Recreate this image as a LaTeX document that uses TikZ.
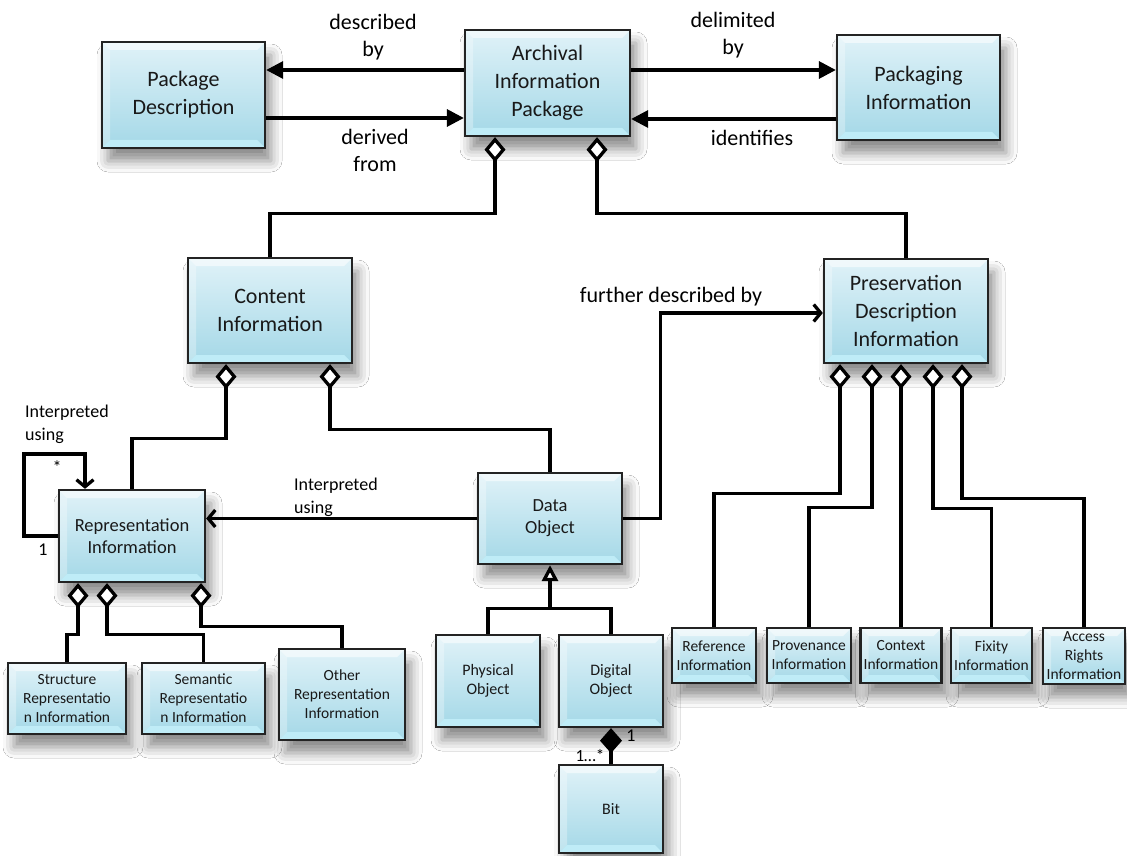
\documentclass[tikz,border=0pt]{standalone}
\usepackage{fontspec}
\setmainfont{Carlito}
\usetikzlibrary{arrows.meta,shadows.blur}

\definecolor{boxtop}{RGB}{224,242,248}
\definecolor{boxbot}{RGB}{164,216,231}
\definecolor{boxedge}{RGB}{196,240,250}
\definecolor{boxline}{RGB}{35,35,35}

\tikzset{
  bevel/.style={path picture={
      \fill[white,opacity=0.55] (path picture bounding box.north west) -- (path picture bounding box.north east)
        -- ([xshift=-8pt,yshift=-8pt]path picture bounding box.north east)
        -- ([xshift=8pt,yshift=-8pt]path picture bounding box.north west) -- cycle;
      \fill[white,opacity=0.3] (path picture bounding box.north west) -- ([xshift=8pt,yshift=-8pt]path picture bounding box.north west)
        -- ([xshift=8pt,yshift=8pt]path picture bounding box.south west) -- (path picture bounding box.south west) -- cycle;
      \fill[boxedge,opacity=0.85] (path picture bounding box.south west) -- (path picture bounding box.south east)
        -- ([xshift=-8pt,yshift=8pt]path picture bounding box.south east)
        -- ([xshift=8pt,yshift=8pt]path picture bounding box.south west) -- cycle;
    }},
  oaisbox/.style={draw=boxline, line width=2.3pt, top color=boxtop, bottom color=boxbot,
    blur shadow={shadow xshift=6pt, shadow yshift=-13pt, shadow blur radius=11pt, shadow opacity=45},
    bevel, align=center, inner sep=0pt, text=black!90},
  bigbox/.style={oaisbox, font=\fontsize{22}{28}\selectfont},
  ribox/.style={oaisbox, font=\fontsize{18.5}{22}\selectfont},
  dobox/.style={oaisbox, font=\fontsize{18.5}{22}\selectfont},
  smbox/.style={oaisbox, minimum width=104, minimum height=92, font=\fontsize{16}{19}\selectfont},
  repbox/.style={oaisbox, minimum height=71, font=\fontsize{15.5}{19}\selectfont},
  pdibox/.style={oaisbox, minimum width=84, minimum height=55, font=\fontsize{15.5}{19}\selectfont},
  lbl/.style={align=center, inner sep=0pt, font=\fontsize{22}{27}\selectfont},
  lbls/.style={align=left, inner sep=0pt, font=\fontsize{18}{23}\selectfont},
  conn/.style={line width=3.3pt, black},
  tri/.style={conn, -{Triangle[length=17pt,width=17pt]}},
  opn/.style={conn, -{Straight Barb[length=7pt,width=17pt]}},
  agg/.style={conn, {Diamond[open,fill=white,length=25pt,width=21pt]}-},
  gen/.style={conn, {Triangle[open,fill=white,length=16pt,width=16pt]}-},
  comp/.style={conn, {Diamond[length=25pt,width=22pt]}-}
}

\begin{document}
\begin{tikzpicture}[x=1pt,y=-1pt]
    \useasboundingbox (0,0) rectangle (1127,856);
    \fill[white] (0,0) rectangle (1127,856);

    % package level
    \node[bigbox, minimum width=163, minimum height=106] (pd) at (183.5,95) {Package\\Description};
    \node[bigbox, minimum width=165, minimum height=106] (aip) at (547.5,83) {Archival\\Information\\Package};
    \node[bigbox, minimum width=163, minimum height=105] (pki) at (918.5,87.5) {Packaging\\Information};

    \node[bigbox, minimum width=164, minimum height=105] (ci) at (270,310.5) {Content\\Information};
    \node[bigbox, minimum width=164, minimum height=104] (pdi) at (906,311) {Preservation\\Description\\Information};

    \node[ribox, minimum width=146, minimum height=92] (ri) at (132,536) {Representation\\Information};
    \node[dobox, minimum width=144, minimum height=91] (dob) at (550,518.5) {Data\\Object};

    \node[smbox] (phys) at (488,681) {Physical\\Object};
    \node[smbox] (digi) at (611,681) {Digital\\Object};
    \node[smbox, minimum height=88] (bit) at (611,809) {Bit};

    \node[repbox, minimum width=118] (srep) at (67,698.5) {Structure\\Representatio\\n Information};
    \node[repbox, minimum width=123] (sem) at (203.5,698.5) {Semantic\\Representatio\\n Information};
    \node[repbox, minimum width=126, minimum height=91] (orep) at (342,694.5) {Other\\Representation\\Information};

    \node[pdibox] (refi) at (714,655.5) {Reference\\Information};
    \node[pdibox] (prov) at (809,655.5) {Provenance\\Information};
    \node[pdibox, minimum width=81] (ctx) at (901,655.5) {Context\\Information};
    \node[pdibox, minimum width=81] (fix) at (991.5,655.5) {Fixity\\Information};
    \node[pdibox, minimum width=82, minimum height=56] (acc) at (1084,656) {Access\\Rights\\Information};

    % labels
    \node[lbl] (lDescribed) at (373,37) {described\\by};
    \node[lbl] (lDerived) at (375,150) {derived\\from};
    \node[lbl] (lDelimited) at (733,35) {delimited\\by};
    \node[lbl] (lIdentifies) at (752,138) {identifies};
    \node[lbl] (lFurther) at (671,297) {further described by};
    \node[lbls, anchor=west] (lInterpSelf) at (25,424) {Interpreted\\using};
    \node[lbls] (lStar) at (57,467) {*};
    \node[lbls] (lOne) at (43,550) {1};
    \node[lbls, anchor=west] (lInterp) at (294,497) {Interpreted\\using};
    \node[lbls] (lBitOne) at (631,736) {1};
    \node[lbls, font=\fontsize{17}{19}\selectfont] (lBitMany) at (590,756) {1…*};

    % top relations
    \draw[tri] ([yshift=13]aip.west) -- ([yshift=25]pd.east);
    \draw[tri] ([yshift=-23]pd.east) -- ([yshift=-35]aip.west);
    \draw[tri] ([yshift=13]aip.east) -- ([yshift=17.5]pki.west);
    \draw[tri] ([yshift=-31.5]pki.west) -- ([yshift=-36]aip.east);

    % package parts
    \draw[agg] ([xshift=-52.5]aip.south) -- ++(0,76) -| (ci.north);
    \draw[agg] ([xshift=49.5]aip.south) -- ++(0,76) -| (pdi.north);
    \draw[agg] ([xshift=-44]ci.south) -- ++(0,74) -| (ri.north);
    \draw[agg] ([xshift=60]ci.south) -- ++(0,65) -| (dob.north);

    % data object
    \draw[opn] (dob.west) -- (dob.west -| ri.east);
    \draw[opn] (dob.east) -- ++(37,0) |- ([yshift=-2]pdi.west);
    \draw[opn] (ri.west) -- ++(-34,0) -- ++(0,-82) -| ([xshift=-47]ri.north);
    \draw[gen] (dob.south) -- ++(0,43) -| (phys.north);
    \draw[conn] (dob.south) ++(0,43) -| (digi.north);
    \draw[comp] (digi.south) -- (bit.north);

    % representation parts
    \draw[agg] ([xshift=-54]ri.south) -- ++(0,51) -| (srep.north);
    \draw[agg] ([xshift=-25]ri.south) -- ++(0,51) -| (sem.north);
    \draw[agg] ([xshift=69]ri.south) -- ++(0,43) -| (orep.north);

    % preservation parts
    \draw[agg] ([xshift=-66]pdi.south) -- ++(0,129) -| (refi.north);
    \draw[agg] ([xshift=-34]pdi.south) -- ++(0,143) -| (prov.north);
    \draw[agg] (ctx.north |- pdi.south) -- (ctx.north);
    \draw[agg] ([xshift=27]pdi.south) -- ++(0,144) -| (fix.north);
    \draw[agg] ([xshift=56]pdi.south) -- ++(0,134) -| (acc.north);
\end{tikzpicture}
\end{document}
